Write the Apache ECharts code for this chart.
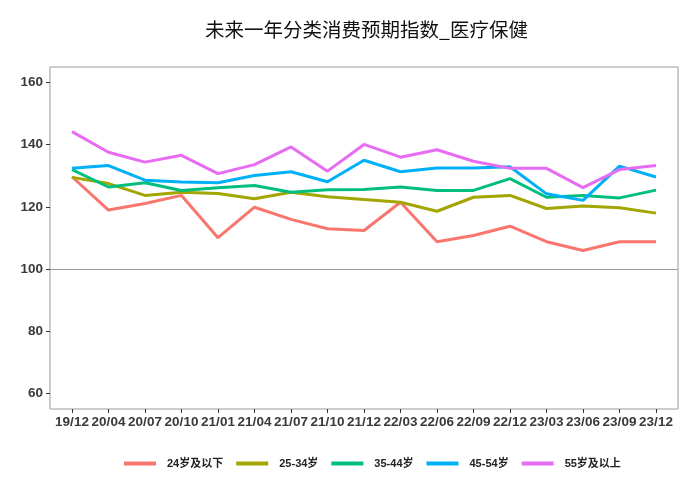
<!DOCTYPE html>
<html>
<head>
<meta charset="utf-8">
<script src="https://cdn.jsdelivr.net/npm/echarts@6/dist/echarts.min.js"></script>
<style>html,body{margin:0;padding:0;background:#fff}#c{width:699px;height:500px}</style>
</head>
<body>
<div id="c"></div>
<script>
var categories = ['19/12','20/04','20/07','20/10','21/01','21/04','21/07','21/10','21/12','22/03','22/06','22/09','22/12','23/03','23/06','23/09','23/12'];
var seriesNames = ['24岁及以下','25-34岁','35-44岁','45-54岁','55岁及以上'];
var age24 = [129.7,119.0,121.1,123.7,110.1,119.9,116.0,113.0,112.4,121.5,108.8,110.8,113.8,108.8,106.0,108.8,108.8];
var age25_34 = [129.5,127.5,123.7,124.7,124.3,122.6,124.7,123.3,122.4,121.5,118.6,123.1,123.7,119.5,120.3,119.7,118.0];
var age35_44 = [132.0,126.4,127.8,125.3,126.2,126.9,124.7,125.5,125.6,126.4,125.3,125.3,129.1,123.1,123.7,122.9,125.4];
var age45_54 = [132.4,133.3,128.6,128.0,127.8,130.1,131.3,128.1,135.0,131.3,132.5,132.5,132.9,124.2,122.1,133.1,129.6];
var age55 = [144.2,137.6,134.4,136.6,130.7,133.6,139.3,131.5,140.1,136.0,138.4,134.7,132.4,132.4,126.2,132.0,133.3];
var yTicks = [60, 80, 100, 120, 140, 160];
var refValue = 100;

var colors = ['#F8766D','#A3A500','#00BF7D','#00B0F6','#E76BF3'];
var allSeries = [age24, age25_34, age35_44, age45_54, age55];

var FRAME_L = 50, FRAME_R = 21, DATA_L = 72, DATA_R = 43, TOP = 67, BOTTOM = 91;
var W = 699;

var series = allSeries.map(function (d, i) {
  var s = {
    name: seriesNames[i], type: 'line', data: d, symbol: 'none',
    xAxisIndex: 0, yAxisIndex: 0,
    lineStyle: { width: 3, color: colors[i] }, itemStyle: { color: colors[i] },
    z: 3
  };
  if (i === 0) {
    s.markLine = {
      silent: true, symbol: 'none', label: { show: false },
      lineStyle: { color: '#999999', width: 1, type: 'solid' },
      data: [[{ yAxis: refValue, x: FRAME_L }, { yAxis: refValue, x: W - FRAME_R }]],
      z: 1
    };
  }
  return s;
});

var chart = echarts.init(document.getElementById('c'), null, { renderer: 'canvas' });
chart.setOption({
  animation: false,
  backgroundColor: '#ffffff',
  color: colors,
  title: {
    text: '未来一年分类消费预期指数_医疗保健',
    left: 200, top: 15,
    textStyle: { fontFamily: 'Noto Sans CJK SC', fontSize: 19.5, fontWeight: 'normal', color: '#111' }
  },
  legend: {
    data: seriesNames,
    left: 124, top: 458, padding: 0,
    icon: 'rect', itemWidth: 32, itemHeight: 4, itemGap: 13,
    textStyle: { fontFamily: 'Liberation Sans, Noto Sans CJK SC', fontSize: 11, fontWeight: 'bold', color: '#222', padding: [0, 0, 0, 6] }
  },
  grid: [
    { left: DATA_L, right: DATA_R, top: TOP, bottom: BOTTOM, containLabel: false },
    { left: FRAME_L, right: FRAME_R, top: TOP, bottom: BOTTOM, show: true, borderColor: '#9a9a9a', borderWidth: 1, backgroundColor: 'transparent', z: 0 }
  ],
  xAxis: [
    {
      gridIndex: 0, type: 'category', data: categories, boundaryGap: false,
      axisLine: { show: false },
      axisTick: { show: true, length: 4, lineStyle: { color: '#333' } },
      axisLabel: { interval: 0, margin: 6, fontFamily: 'Liberation Sans', fontSize: 13.5, fontWeight: 'bold', color: '#3a3a3a' },
      splitLine: { show: false }
    },
    { gridIndex: 1, type: 'value', show: false, min: 0, max: 1 }
  ],
  yAxis: [
    {
      gridIndex: 0, type: 'value', min: 55, max: 165, offset: DATA_L - FRAME_L,
      axisLine: { show: false },
      axisTick: { show: true, length: 4, lineStyle: { color: '#333' }, customValues: yTicks },
      axisLabel: { margin: 7, fontFamily: 'Liberation Sans', fontSize: 13.5, fontWeight: 'bold', color: '#3a3a3a', customValues: yTicks },
      splitLine: { show: false }
    },
    { gridIndex: 1, type: 'value', show: false, min: 0, max: 1 }
  ],
  series: series
});
</script>
</body>
</html>
